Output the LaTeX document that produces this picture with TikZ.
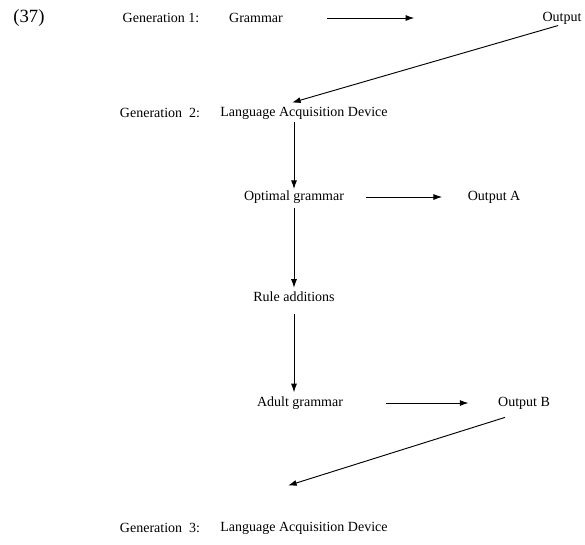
\documentclass[tikz,border=0pt]{standalone}
\usepackage{fontspec}
\setmainfont{Liberation Serif}
\usetikzlibrary{positioning,calc,arrows.meta}

\begin{document}
\begin{tikzpicture}[x=0.75pt,y=-0.75pt,>={Latex[length=6.5pt,width=4.5pt]},
		every node/.style={inner sep=0pt,font=\fontsize{10.5}{12}\selectfont},
		flow/.style={->,line width=0.7pt}]
	\useasboundingbox (0,0) rectangle (585,544);
	% generation 1
	\node (ex) at (29,18) {\fontsize{14}{16}\selectfont(37)};
	\node (gen1) at (161,18) {Generation 1:};
	\node (gram1) at (256,18) {Grammar};
	\node (out1) at (562,18) {Output};
	% generation 2
	\node (gen2) at (160,113) {Generation\ \ 2:};
	\node (lad2) at (304,113) {Language Acquisition Device};
	\node (optg) at (294,197) {Optimal grammar};
	\node (outA) at (494,197) {Output A};
	\node (rules) at (294,297) {Rule additions};
	\node (adultg) at (300,403) {Adult grammar};
	\node (outB) at (524,403) {Output B};
	% generation 3
	\node (gen3) at (160,528) {Generation\ \ 3:};
	\node (lad3) at (304,528) {Language Acquisition Device};
	%
	\draw[flow,shorten <=33pt,shorten >=96pt] (gram1) -- (out1);
	\draw[flow,shorten <=3pt] (out1.south) -- ($(lad2.north)+(-12,-4)$);
	\draw[flow,shorten <=2pt,shorten >=1pt] (lad2.south -| optg.north) -- (optg.north);
	\draw[flow,shorten <=3pt,shorten >=3pt] (optg.south) -- (rules.north);
	\draw[flow,shorten <=9pt,shorten >=3pt] (rules.south) -- (rules.south |- adultg.north);
	\draw[flow,shorten <=16pt,shorten >=19pt] (optg) -- (outA);
	\draw[flow,shorten <=32pt,shorten >=22pt] (adultg) -- (outB);
	\draw[flow] ($(outB.south)+(-19,8)$) -- ($(lad3.north)+(-16,-36)$);
\end{tikzpicture}
\end{document}
